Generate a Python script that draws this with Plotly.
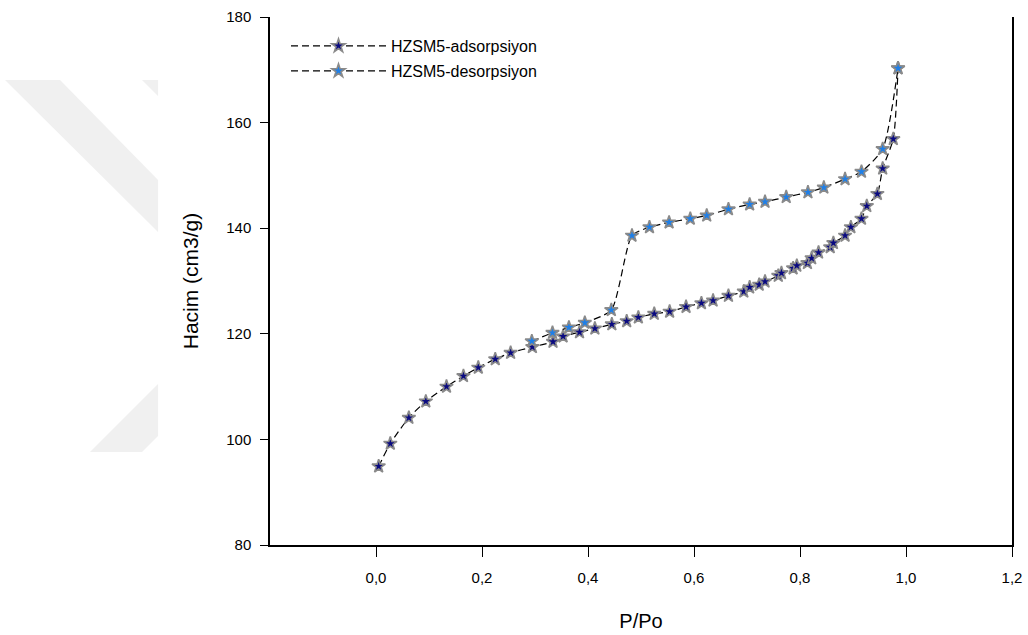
import plotly.graph_objects as go

# ---- data ----
ads_x = [0.005, 0.027, 0.062, 0.094, 0.133, 0.165, 0.193, 0.225, 0.254, 0.295,
         0.334, 0.353, 0.384, 0.413, 0.445, 0.473, 0.495, 0.525, 0.554, 0.585,
         0.614, 0.636, 0.665, 0.694, 0.705, 0.723, 0.734, 0.759, 0.765, 0.787,
         0.794, 0.814, 0.822, 0.835, 0.857, 0.863, 0.885, 0.896, 0.916, 0.926,
         0.946, 0.956, 0.976, 0.985]
ads_y = [94.9, 99.2, 104.1, 107.2, 110.0, 112.0, 113.6, 115.2, 116.4, 117.5,
         118.5, 119.5, 120.3, 121.0, 121.8, 122.4, 123.1, 123.8, 124.2, 125.1,
         125.8, 126.3, 127.2, 128.0, 128.8, 129.3, 129.9, 131.0, 131.5, 132.4,
         132.9, 133.4, 134.3, 135.4, 136.4, 137.2, 138.6, 140.2, 141.8, 144.2,
         146.5, 151.3, 156.9, 170.3]

des_x = [0.294, 0.333, 0.364, 0.394, 0.444, 0.483, 0.516, 0.553, 0.593, 0.624,
         0.665, 0.705, 0.734, 0.774, 0.815, 0.845, 0.885, 0.916, 0.956, 0.985]
des_y = [118.6, 120.2, 121.2, 122.1, 124.5, 138.6, 140.2, 141.1, 141.8, 142.4,
         143.6, 144.5, 145.0, 145.9, 146.8, 147.7, 149.3, 150.7, 155.0, 170.3]

series_names = ["HZSM5-adsorpsiyon", "HZSM5-desorpsiyon"]
x_ticks = [0.0, 0.2, 0.4, 0.6, 0.8, 1.0, 1.2]
y_ticks = [80, 100, 120, 140, 160, 180]

FONT = "Arial, Liberation Sans, sans-serif"

fig = go.Figure()

fig.add_trace(go.Scatter(
    x=ads_x, y=ads_y, mode="lines+markers", name=series_names[0],
    line=dict(color="black", width=1.2, dash="7px,4px", shape="spline", smoothing=0.6),
    marker=dict(symbol="star", size=10, color="#0a0a80",
                line=dict(color="#8a8a8a", width=1.6)),
    legend="legend",
))
fig.add_trace(go.Scatter(
    x=des_x, y=des_y, mode="lines+markers", name=series_names[1],
    line=dict(color="black", width=1.2, dash="7px,4px", shape="spline", smoothing=0.6),
    marker=dict(symbol="star", size=10, color="#1e7fe8",
                line=dict(color="#8a8a8a", width=1.6)),
    legend="legend2",
))

# plot area in pixels: x 270..1012, y 17..545
L, R, T, B = 270, 16, 17, 90
W, H = 1028, 635
pw, ph = W - L - R, H - T - B


def px(xp):
    return (xp - L) / pw


def py(yp):
    return (H - B - yp) / ph


wm = "#f0f0f0"
shapes = []
for pts in [
    [(5, 80), (60, 80), (158, 180), (158, 232)],
    [(142, 80), (158, 80), (158, 96)],
    [(90, 452), (142, 452), (158, 436), (158, 384)],
]:
    path = "M " + " L ".join(f"{px(a):.4f},{py(b):.4f}" for a, b in pts) + " Z"
    shapes.append(dict(type="path", xref="paper", yref="paper", path=path,
                       fillcolor=wm, line=dict(width=0), layer="below"))

legend_common = dict(
    bgcolor="rgba(0,0,0,0)", borderwidth=0, itemwidth=95,
    font=dict(family=FONT, size=16, color="black"),
    xanchor="left", yanchor="middle",
)

fig.update_layout(
    width=W, height=H,
    margin=dict(l=L, r=R, t=T, b=B, autoexpand=False),
    paper_bgcolor="white", plot_bgcolor="white",
    showlegend=True,
    separators=",.",
    font=dict(family=FONT, color="black"),
    shapes=shapes,
    legend=dict(x=px(286), y=py(46), **legend_common),
    legend2=dict(x=px(286), y=py(71), **legend_common),
    xaxis=dict(
        range=[-0.2, 1.2], tickvals=x_ticks, tickformat=".1f",
        showgrid=False, zeroline=False, automargin=False,
        showline=True, linecolor="black", linewidth=1.5, mirror=False,
        ticks="outside", ticklen=10, tickwidth=1.2, tickcolor="black",
        ticklabelstandoff=8,
        tickfont=dict(family=FONT, size=15, color="black"),
        title=dict(text="P/Po", font=dict(family=FONT, size=20, color="black"), standoff=29),
    ),
    yaxis=dict(
        range=[80, 180], tickvals=y_ticks,
        showgrid=False, zeroline=False, automargin=False,
        showline=True, linecolor="black", linewidth=1.5, mirror=True,
        ticks="outside", ticklen=8, tickwidth=1.2, tickcolor="black",
        ticklabelstandoff=6,
        tickfont=dict(family=FONT, size=15, color="black"),
        title=dict(text="Hacim (cm3/g)", font=dict(family=FONT, size=21, color="black"), standoff=22),
    ),
)

fig.write_html("out.html")
